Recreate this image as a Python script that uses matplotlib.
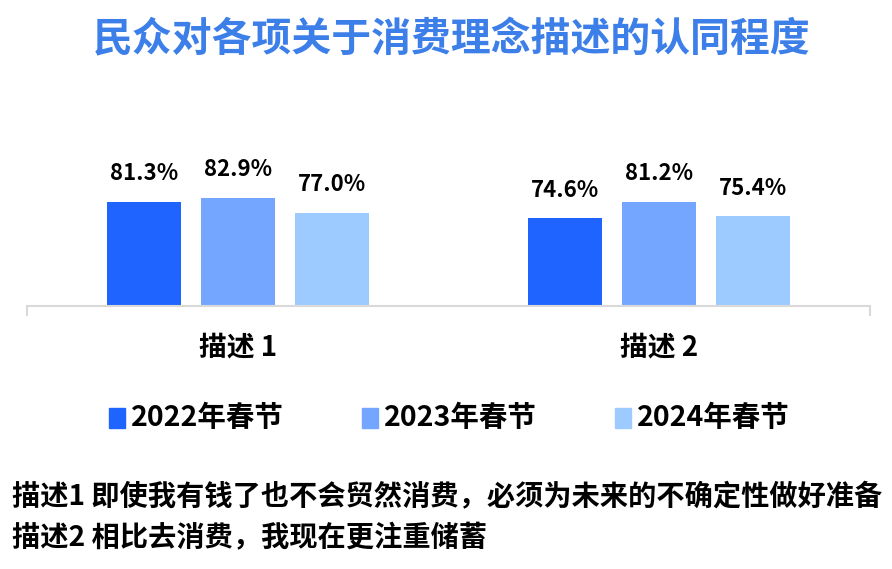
import matplotlib.pyplot as plt
import matplotlib.patches as mpatches
import numpy as np

plt.rcParams['font.family'] = ['Noto Sans CJK SC', 'DejaVu Sans']

# data
categories = ['描述 1', '描述 2']
series = ['2022年春节', '2023年春节', '2024年春节']
v2022 = [81.3, 74.6]
v2023 = [82.9, 81.2]
v2024 = [77.0, 75.4]
notes = ['描述1 即使我有钱了也不会贸然消费，必须为未来的不确定性做好准备',
         '描述2 相比去消费，我现在更注重储蓄']

colors = ['#1f64ff', '#75a6ff', '#9dcbff']
title_color = '#3d7fe8'

W, H = 892, 569
fig = plt.figure(figsize=(W / 100, H / 100), dpi=100)

# axes: x 27..870 px, y 100..306 px
ax = fig.add_axes([27 / W, (H - 306) / H, (870 - 27) / W, 206 / H])
x = np.arange(len(categories))
width = 0.175
step = 0.223
for i, (vals, name) in enumerate(zip([v2022, v2023, v2024], series)):
    pos = x + (i - 1) * step
    bars = ax.bar(pos, vals, width, color=colors[i], label=name)
    for b, v in zip(bars, vals):
        ax.annotate('%.1f%%' % v, (b.get_x() + b.get_width() / 2, v),
                    xytext=(0, 12), textcoords='offset points',
                    ha='center', va='bottom', fontsize=16, fontweight='bold',
                    style='italic', color='black')

ax.set_xlim(-0.5, 1.5)
ax.set_ylim(39.3, 39.3 + 206 / 2.48)
ax.set_yticks([])
for s in ['left', 'right', 'top']:
    ax.spines[s].set_visible(False)
ax.spines['bottom'].set_color('#d9d9d9')
ax.spines['bottom'].set_linewidth(1.5)
ax.set_xticks(x)
ax.set_xticklabels(categories, fontsize=20, fontweight='bold', style='italic')
ax.tick_params(axis='x', which='major', length=0, pad=20)
ax.set_xticks([-0.5, 1.5], minor=True)
ax.tick_params(axis='x', which='minor', length=7, width=1.5, color='#d9d9d9')

# title
fig.text(452 / W, 1 - 40 / H, '民众对各项关于消费理念描述的认同程度',
         ha='center', va='center', fontsize=28.7, fontweight='bold',
         color=title_color, style='italic')

# legend
leg_x = [109, 362, 615]
for lx, c, name in zip(leg_x, colors, series):
    fig.patches.append(mpatches.Rectangle((lx / W, 1 - 428 / H), 16 / W, 20 / H,
                                          transform=fig.transFigure, color=c))
    fig.text((lx + 22) / W, 1 - 418 / H, name, ha='left', va='center',
             fontsize=20.5, fontweight='bold', style='italic')

# notes
for k, t in enumerate(notes):
    fig.text(12 / W, 1 - (497 + k * 41) / H, t, ha='left', va='center',
             fontsize=20.3, fontweight='bold')

fig.savefig('out.png', dpi=100)
